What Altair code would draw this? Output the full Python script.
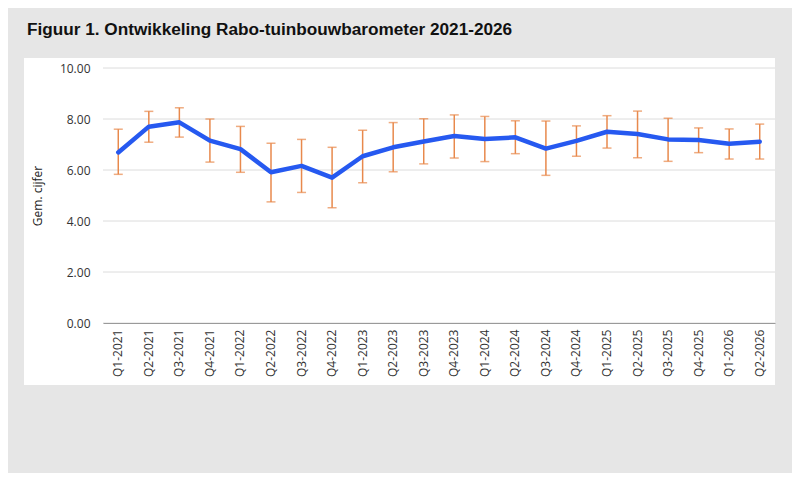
import altair as alt
import pandas as pd

quarters = ["Q1-2021", "Q2-2021", "Q3-2021", "Q4-2021", "Q1-2022", "Q2-2022",
            "Q3-2022", "Q4-2022", "Q1-2023", "Q2-2023", "Q3-2023", "Q4-2023",
            "Q1-2024", "Q2-2024", "Q3-2024", "Q4-2024", "Q1-2025", "Q2-2025",
            "Q3-2025", "Q4-2025", "Q1-2026", "Q2-2026"]
means = [6.69, 7.70, 7.87, 7.15, 6.82, 5.91, 6.16, 5.70, 6.54, 6.89, 7.12,
         7.33, 7.22, 7.28, 6.84, 7.14, 7.50, 7.41, 7.20, 7.18, 7.03, 7.11]
highs = [7.60, 8.30, 8.44, 8.00, 7.71, 7.05, 7.20, 6.89, 7.56, 7.86, 8.01,
         8.16, 8.10, 7.93, 7.92, 7.73, 8.13, 8.31, 8.03, 7.65, 7.61, 7.80]
lows = [5.83, 7.09, 7.29, 6.31, 5.91, 4.75, 5.12, 4.52, 5.50, 5.93, 6.24,
        6.47, 6.33, 6.64, 5.79, 6.54, 6.86, 6.48, 6.34, 6.68, 6.43, 6.43]
grid_values = [0, 2, 4, 6, 8, 10]

W, H = 672, 255

df = pd.DataFrame({"kwartaal": quarters, "gem": means, "laag": lows, "hoog": highs})
grid_df = pd.DataFrame({"v": grid_values})
panel_df = pd.DataFrame({"a": [0]})

FONT = "Open Sans"
BLUE = "#2659f0"
ORANGE = "#e8894c"

x = alt.X("kwartaal:N", sort=quarters, title=None,
          axis=alt.Axis(labelAngle=-90, labelFontSize=12, labelColor="#333333",
                        labelFont=FONT, labelPadding=6, ticks=False,
                        domainColor="#9a9a9a", domainWidth=1, grid=False, zindex=1))
y_scale = alt.Scale(domain=[0, 10])

panel = alt.Chart(panel_df).mark_rect(color="white").encode(
    x=alt.value(-79), x2=alt.value(W), y=alt.value(-10), y2=alt.value(H + 62)
)

grid = alt.Chart(grid_df).mark_rule(color="#dcdcdc", strokeWidth=1).encode(
    y=alt.Y("v:Q", scale=y_scale,
            axis=alt.Axis(values=grid_values, format=".2f", title="Gem. cijfer",
                          labelFontSize=12, labelColor="#333333", labelFont=FONT,
                          labelPadding=13, ticks=False, domain=False, grid=False,
                          titleFont=FONT, titleFontSize=12, titleFontWeight="normal",
                          titleColor="#222222", titleAngle=-90, titleX=-66,
                          titleY=H / 2, titleAlign="center", titleBaseline="middle",
                          zindex=1))
)

base = alt.Chart(df)

rules = base.mark_rule(color=ORANGE, strokeWidth=1.5).encode(
    x=x, y=alt.Y("laag:Q", scale=y_scale), y2="hoog:Q"
)
caps_hi = base.mark_tick(color=ORANGE, size=9, thickness=1.5).encode(
    x=x, y=alt.Y("hoog:Q", scale=y_scale)
)
caps_lo = base.mark_tick(color=ORANGE, size=9, thickness=1.5).encode(
    x=x, y=alt.Y("laag:Q", scale=y_scale)
)
line = base.mark_line(color=BLUE, strokeWidth=4.5, strokeJoin="round", strokeCap="round").encode(
    x=x, y=alt.Y("gem:Q", scale=y_scale)
)

chart = alt.layer(panel, grid, rules, caps_hi, caps_lo, line).properties(
    width=W, height=H,
    title=alt.TitleParams(
        text="Figuur 1. Ontwikkeling Rabo-tuinbouwbarometer 2021-2026",
        anchor="start", frame="group", dx=-76, fontSize=17.2, fontWeight="bold",
        font="Liberation Sans", color="#111111", offset=20
    ),
    autosize=alt.AutoSizeParams(type="none"),
    padding={"left": 95, "top": 60, "right": 17, "bottom": 150},
).configure(background="#e6e6e6").configure_view(stroke=None)

chart.save("out.html", embed_options={"renderer": "svg", "actions": False})
